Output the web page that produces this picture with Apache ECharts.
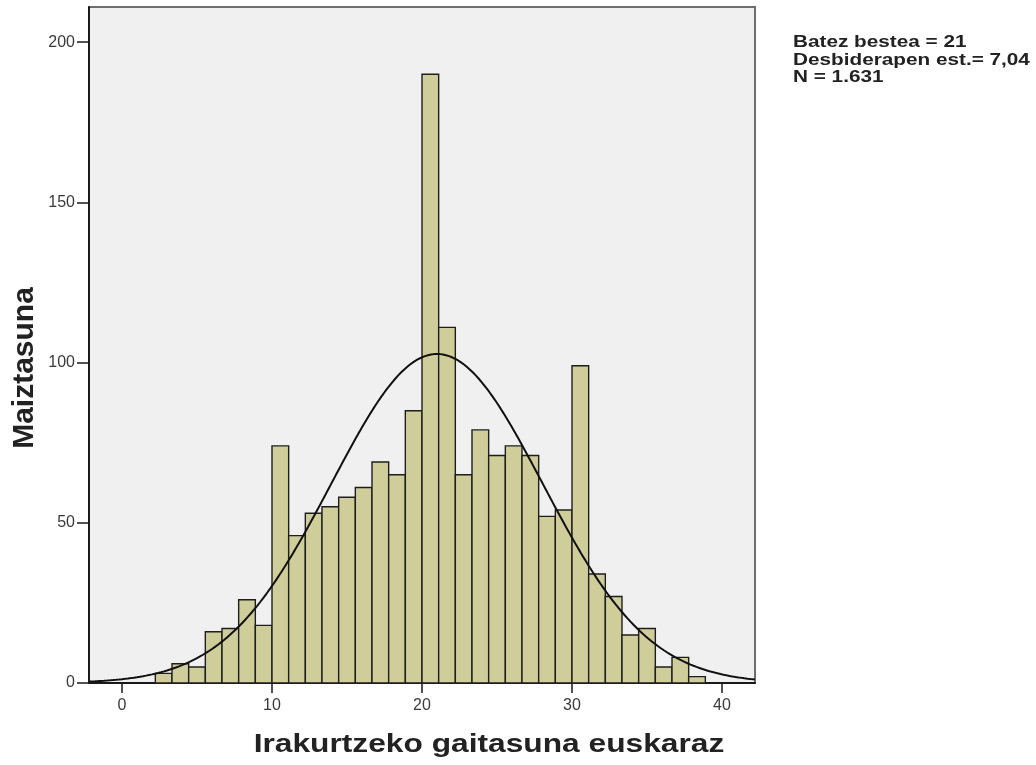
<!DOCTYPE html>
<html>
<head>
<meta charset="utf-8">
<style>
  html, body { margin: 0; padding: 0; background: #fff; }
  #main { width: 1036px; height: 765px; }
</style>
<script src="https://cdn.jsdelivr.net/npm/echarts@6/dist/echarts.min.js"></script>
</head>
<body>
<div id="main"></div>
<script>
// histogram bins (SPSS chose bins of width 10/9 starting at 2.22)
var binStart = 20 / 9;
var binWidth = 10 / 9;
var counts = [3, 6, 5, 16, 17, 26, 18, 74, 46, 53, 55, 58, 61, 69, 65, 85,
  190, 111, 65, 79, 71, 74, 71, 52, 54, 99, 34, 27, 15, 17, 5, 8, 2];
var xTicks = [0, 10, 20, 30, 40];
var yTicks = [0, 50, 100, 150, 200];

// fitted normal curve parameters (from the legend text)
var mean = 21;
var sd = 7.04;
var n = 1631;

var statLines = ["Batez bestea = 21", "Desbiderapen est.= 7,04", "N = 1.631"];

var font = "'Liberation Sans', Arial, sans-serif";

var barData = counts.map(function (c, i) {
  var s = binStart + i * binWidth;
  return [s, s + binWidth, c];
});

var curveData = [];
for (var x = -2.2; x <= 42.21; x += 0.1) {
  var z = (x - mean) / sd;
  curveData.push([x, n * binWidth * Math.exp(-0.5 * z * z) / (sd * Math.sqrt(2 * Math.PI))]);
}

var chart = echarts.init(document.getElementById("main"));
var option = {
  animation: false,
  textStyle: { fontFamily: font },
  grid: {
    left: 89, right: 281, top: 7, bottom: 82,
    show: true, backgroundColor: "#f0f0f0", borderColor: "#6e6e6e", borderWidth: 2
  },
  xAxis: {
    type: "value", min: -2.2, max: 42.2,
    axisLine: { onZero: false, lineStyle: { color: "#1a1a1a", width: 2 } },
    axisTick: { customValues: xTicks, length: 10, lineStyle: { color: "#1a1a1a", width: 1.5 } },
    axisLabel: { customValues: xTicks, margin: 15, fontSize: 16, color: "#3a3a3a", fontFamily: font },
    splitLine: { show: false }
  },
  yAxis: {
    type: "value", min: 0, max: 211,
    axisLine: { show: true, onZero: false, lineStyle: { color: "#1a1a1a", width: 2 } },
    axisTick: { show: true, customValues: yTicks, length: 12, lineStyle: { color: "#1a1a1a", width: 1.5 } },
    axisLabel: { customValues: yTicks, margin: 14, fontSize: 16, color: "#3a3a3a", fontFamily: font },
    splitLine: { show: false }
  },
  series: [
    {
      type: "custom",
      data: barData,
      encode: { x: [0, 1], y: 2 },
      renderItem: function (params, api) {
        var p0 = api.coord([api.value(0), api.value(2)]);
        var p1 = api.coord([api.value(1), 0]);
        return {
          type: "rect",
          shape: { x: p0[0], y: p0[1], width: p1[0] - p0[0], height: p1[1] - p0[1] },
          style: { fill: "#cfcd9a", stroke: "#1e1e1e", lineWidth: 1.4 }
        };
      },
      z: 2
    },
    {
      type: "line",
      data: curveData,
      showSymbol: false,
      lineStyle: { color: "#111", width: 2 },
      z: 3
    }
  ],
  graphic: [
    {
      type: "text", x: 25, y: 368, rotation: Math.PI / 2,
      style: { text: "Maiztasuna", font: "bold 30px " + font, fill: "#222", align: "center", verticalAlign: "middle" }
    },
    {
      type: "text", x: 489, y: 745, scaleX: 1.22,
      style: { text: "Irakurtzeko gaitasuna euskaraz", font: "bold 26px " + font, fill: "#222", align: "center", verticalAlign: "middle" }
    },
    {
      type: "text", x: 793, y: 34, scaleX: 1.22,
      style: { text: statLines.join("\n"), font: "bold 17px " + font, lineHeight: 17.5, fill: "#222" }
    }
  ]
};
chart.setOption(option);
</script>
</body>
</html>
